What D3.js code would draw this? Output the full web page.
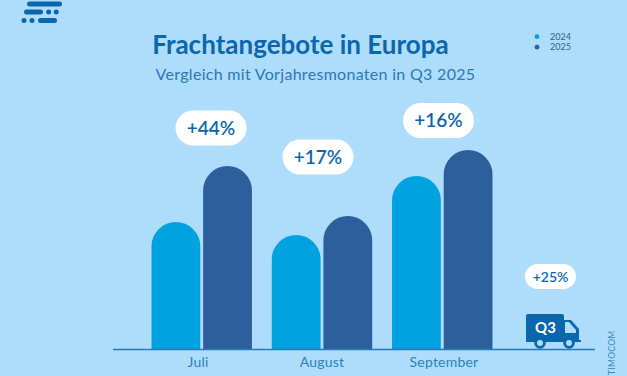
<!DOCTYPE html>
<html><head><meta charset="utf-8">
<script src="https://cdn.jsdelivr.net/npm/d3@7"></script>
<style>html,body{margin:0;padding:0;background:#aedcfb;overflow:hidden}svg{display:block}text{font-family:Lato,sans-serif}</style>
</head><body><svg id="c" width="627" height="376"></svg>
<script>
const months = ["Juli","August","September"];
const seriesNames = ["2024","2025"];
const values2024 = [127,114,173];
const values2025 = [183,133,199];
const changes = ["+44%","+17%","+16%"];
const quarterChange = "+25%";
const quarterLabel = "Q3";
const titleText = "Frachtangebote in Europa";
const subtitleText = "Vergleich mit Vorjahresmonaten in Q3 2025";
const sourceText = "TIMOCOM";
const colors = {bg:"#aedcfb",a:"#00a3e0",b:"#2c5f9b",ink:"#0b67ad",axis:"#2a78b5",label:"#2a80bd"};

const svg = d3.select("#c");
svg.append("rect").attr("width",627).attr("height",376).attr("fill",colors.bg);

const y = d3.scaleLinear().domain([0,199]).range([349,150]);
const x0 = d3.scaleBand().domain(months).range([151.5,492.5]).paddingInner(0.165).paddingOuter(0);
const x1 = d3.scaleBand().domain(seriesNames).range([0,x0.bandwidth()]).paddingInner(0.055);
const w = x1.bandwidth();

function barPath(x,top,bottom,w){
  const r=w/2;
  const path=d3.path();
  path.moveTo(x,bottom);
  path.lineTo(x,top+r);
  path.arc(x+r,top+r,r,Math.PI,0);
  path.lineTo(x+w,bottom);
  path.closePath();
  return path.toString();
}
const rows = months.flatMap((m,i)=>[
  {m,s:"2024",v:values2024[i],c:colors.a},
  {m,s:"2025",v:values2025[i],c:colors.b}
]);
svg.selectAll("path.bar").data(rows).join("path").attr("class","bar")
  .attr("d",d=>barPath(x0(d.m)+x1(d.s),y(d.v),y(0),w)).attr("fill",d=>d.c);

svg.append("line").attr("x1",113).attr("x2",595).attr("y1",y(0)+0.5).attr("y2",y(0)+0.5).attr("stroke",colors.axis).attr("stroke-width",1.6);

const labelOffset = [-3.7,0,1.7];
svg.selectAll("text.m").data(months).join("text").attr("class","m")
  .attr("x",(d,i)=>x0(d)+x0.bandwidth()/2+labelOffset[i]).attr("y",367)
  .attr("text-anchor","middle").attr("font-size",14).attr("letter-spacing",0.2).attr("fill",colors.label).text(d=>d);

function pill(cx,cy,w,h,txt,fs){
  svg.append("rect").attr("x",cx-w/2).attr("y",cy-h/2).attr("width",w).attr("height",h).attr("rx",h/2).attr("fill","#fff");
  svg.append("text").attr("x",cx).attr("y",cy+fs*0.36).attr("text-anchor","middle").attr("font-size",fs).attr("font-weight",600).attr("font-family","Inter").attr("fill",colors.ink).text(txt);
}
const pillPos=[[211,128,71,35],[318,157,71,35],[438.5,120.5,71,35]];
changes.forEach((t,i)=>pill(pillPos[i][0],pillPos[i][1],pillPos[i][2],pillPos[i][3],t,19));
pill(550.5,276.5,51,25,quarterChange,14);

svg.append("text").attr("x",300.5).attr("y",54).attr("text-anchor","middle").attr("font-size",26).attr("font-weight",700).attr("fill",colors.ink).text(titleText);
svg.append("text").attr("x",315.5).attr("y",80).attr("text-anchor","middle").attr("font-size",16).attr("letter-spacing",0.3).attr("fill",colors.axis).text(subtitleText);

seriesNames.forEach((s,i)=>{
  const yy=[36.7,47.2][i];
  svg.append("circle").attr("cx",537).attr("cy",yy).attr("r",2.4).attr("fill",i?colors.b:colors.a);
  svg.append("text").attr("x",550).attr("y",yy+3.2).attr("font-size",9).attr("fill","#2c5f8f").text(s);
});

[[27,1.5,35,5],[24,9.5,19,5],[46.2,9.5,5,5],[53.7,9.5,5,5],[21.5,18,5,5],[29.5,18,5,5],[38,18,19,5]].forEach(r=>{
  svg.append("rect").attr("x",r[0]).attr("y",r[1]).attr("width",r[2]).attr("height",r[3]).attr("rx",2.5).attr("fill",colors.ink);
});

const t=svg.append("g");
t.append("path").attr("fill",colors.ink).attr("d","M528,314H562a2,2 0 0 1 2,2V320H571L579,329V340H581V342H526V316a2,2 0 0 1 2,-2Z");
t.append("path").attr("fill",colors.bg).attr("d","M565,322H569L576,330V333H565Z");
[[540,343],[569,343]].forEach(p=>{
  t.append("circle").attr("cx",p[0]).attr("cy",p[1]).attr("r",5.8).attr("fill",colors.ink);
  t.append("circle").attr("cx",p[0]).attr("cy",p[1]).attr("r",3).attr("fill",colors.bg);
});
t.append("text").attr("x",545.5).attr("y",333).attr("text-anchor","middle").attr("font-size",15).attr("font-weight",700).attr("fill","#fff").text(quarterLabel);

svg.append("text").attr("transform","translate(615,375) rotate(-90)").attr("font-size",8.5).attr("letter-spacing",0.3).attr("fill","#3f86b8").text(sourceText);
</script></body></html>
